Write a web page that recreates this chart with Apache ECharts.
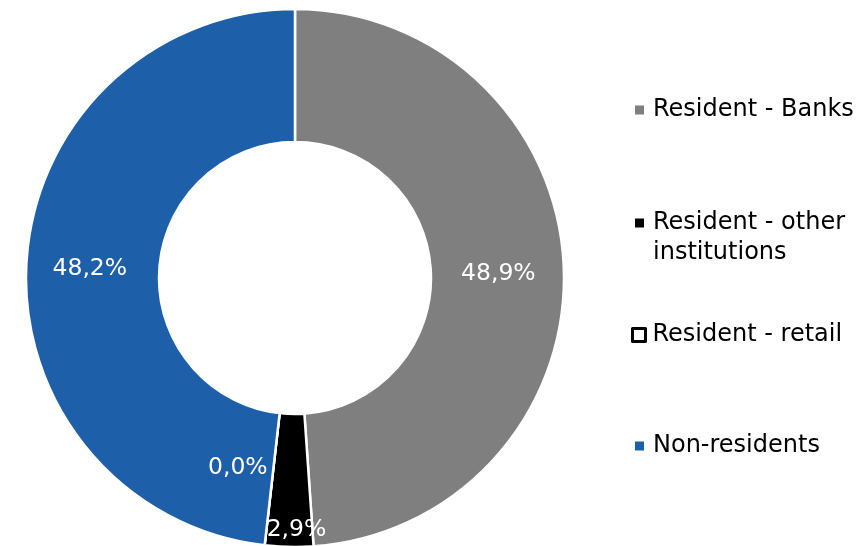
<!DOCTYPE html>
<html>
<head>
<meta charset="utf-8">
<script src="https://cdn.jsdelivr.net/npm/echarts@6/dist/echarts.min.js"></script>
<style>
  html, body { margin: 0; padding: 0; background: #ffffff; }
  #chart { width: 862px; height: 546px; }
</style>
</head>
<body>
<div id="chart"></div>
<script>
// Holders of the debt, share of total (%)
const categories = ['Resident - Banks', 'Resident - other institutions', 'Resident - retail', 'Non-residents'];
// The leading blank line keeps the icon level with the first line of a wrapped entry
const legendLabels = ['Resident - Banks', '\nResident - other\ninstitutions', 'Resident - retail', 'Non-residents'];
const shares = [48.9, 2.9, 0.0, 48.2];
const colors = ['#7f7f7f', '#000000', '#ffffff', '#1e5faa'];

const FONT = 'DejaVu Sans';

// Label nudges; the small slices get theirs moved clear of each other
const labelShift = {
  0: { dx: -2, dy: 3 },
  1: { dx: 6, dy: 46 },
  2: { dx: -34, dy: -14 },
  3: { dx: 0, dy: 3 }
};

const pieData = categories.map((name, i) => ({
  name: name,
  value: shares[i],
  itemStyle: { color: colors[i] }
}));

// One legend per entry so each row can sit at its own height and icon style
const legendTops = [95, 178, 320, 431];
const legends = categories.map((name, i) => {
  const isRetail = i === 2;
  return {
    orient: 'vertical',
    left: isRetail ? 631 : 635,
    top: legendTops[i],
    padding: 0,
    data: [name],
    icon: 'rect',
    itemWidth: isRetail ? 13 : 9,
    itemHeight: isRetail ? 13 : 9,
    selectedMode: false,
    itemStyle: isRetail
      ? { color: '#ffffff', borderColor: '#000000', borderWidth: 3 }
      : { color: colors[i], borderWidth: 0 },
    formatter: () => legendLabels[i],
    textStyle: {
      fontFamily: FONT,
      fontSize: 24,
      color: '#000000',
      lineHeight: 30,
      padding: [0, 0, 0, isRetail ? 2 : 4]
    }
  };
});

const chart = echarts.init(document.getElementById('chart'), null, { renderer: 'canvas' });
chart.setOption({
  backgroundColor: '#ffffff',
  animation: false,
  legend: legends,
  series: [{
    type: 'pie',
    center: [295, 278],
    radius: [136, 269],
    startAngle: 90,
    clockwise: true,
    avoidLabelOverlap: false,
    itemStyle: { borderColor: '#ffffff', borderWidth: 2.5 },
    label: {
      show: true,
      position: 'inside',
      color: '#ffffff',
      fontFamily: FONT,
      fontSize: 23.5,
      formatter: p => p.value.toFixed(1).replace('.', ',') + '%'
    },
    labelLine: { show: false },
    labelLayout: p => labelShift[p.dataIndex] || {},
    emphasis: { disabled: true },
    data: pieData
  }]
});
</script>
</body>
</html>
